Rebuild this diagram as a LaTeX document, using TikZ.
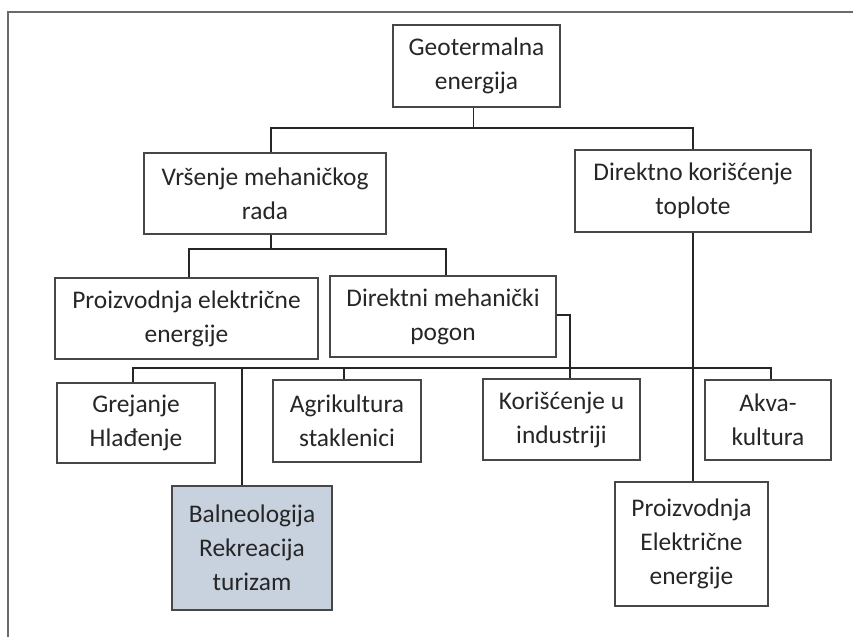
\documentclass[tikz,border=0pt]{standalone}
\usepackage{fontspec}
\setmainfont{Carlito}
\usetikzlibrary{calc}
\definecolor{inkgray}{HTML}{262626}
\definecolor{edgegray}{HTML}{474747}
\definecolor{framegray}{HTML}{6A6A6A}
\definecolor{balfill}{HTML}{C8D2DF}
\tikzset{
  plainbox/.style={draw=edgegray, line width=0.75pt, fill=white, align=center,
                   text=inkgray, inner sep=2pt, font=\fontsize{12.7}{17}\selectfont},
  shadebox/.style={plainbox, fill=balfill},
  wire/.style={draw=inkgray, line width=0.8pt}}
\begin{document}
\begin{tikzpicture}[x=0.5pt, y=-0.5pt]
  \useasboundingbox[fill=white] (0,0) rectangle (853,637);
  \draw[framegray, line width=0.7pt] (8,637) -- (8,12) -- (853,12);

  % top levels
  \node[plainbox, minimum width=83.5pt, minimum height=41pt] (geo) at (476.5,66)
    {Geotermalna\\energija};
  \node[plainbox, minimum width=121pt, minimum height=40.5pt] (mech) at (265,193.5)
    {Vršenje mehaničkog\\rada};
  \node[plainbox, minimum width=118pt, minimum height=41pt] (heat) at (693,191)
    {Direktno korišćenje\\toplote};
  \node[plainbox, minimum width=131.5pt, minimum height=40.5pt] (elec) at (186.5,318.5)
    {Proizvodnja električne\\energije};
  \node[plainbox, minimum width=113pt, minimum height=40.5pt] (drive) at (443,316.5)
    {Direktni mehanički\\pogon};

  % uses
  \node[plainbox, minimum width=79pt, minimum height=40pt] (heatcool) at (136,423)
    {Grejanje\\Hlađenje};
  \node[plainbox, minimum width=74pt, minimum height=41pt] (agri) at (347,421)
    {Agrikultura\\staklenici};
  \node[plainbox, minimum width=78.5pt, minimum height=40.5pt] (ind) at (561.5,419.5)
    {Korišćenje u\\industriji};
  \node[plainbox, minimum width=63pt, minimum height=40pt] (aqua) at (768,420)
    {Akva-\\kultura};
  \node[shadebox, minimum width=80pt, minimum height=62pt] (balneo) at (252,548)
    {Balneologija\\Rekreacija\\turizam};
  \node[plainbox, minimum width=76.5pt, minimum height=62pt] (power) at (691.5,544)
    {Proizvodnja\\Električne\\energije};

  \coordinate (busA) at (0,128);
  \coordinate (busB) at (0,249);
  \coordinate (busC) at (0,368);

  \draw[wire] ([xshift=-1.5pt]geo.south) -- ([xshift=-1.5pt]geo.south |- busA);
  \draw[wire] ([xshift=3pt]mech.north) |- (heat.north |- busA) -- (heat.north);
  \draw[wire] ([xshift=3pt]mech.south) -- ([xshift=3pt]mech.south |- busB);
  \draw[wire] ([xshift=1.25pt]elec.north) |- ([xshift=1.5pt]drive.north |- busB)
    -- ([xshift=1.5pt]drive.north);
  \draw[wire] ([xshift=-1.5pt]heatcool.north) |- ([xshift=1.5pt]aqua.north |- busC)
    -- ([xshift=1.5pt]aqua.north);
  \draw[wire] ([xshift=-1.5pt]agri.north) -- ([xshift=-1.5pt]agri.north |- busC);
  \draw[wire] ([xshift=-5pt]balneo.north) -- ([xshift=-5pt]balneo.north |- busC);
  \draw[wire] ([yshift=0.75pt]drive.east) -| ([xshift=4.25pt]ind.north);
  \draw[wire] (heat.south) -- (heat.south |- power.north);
\end{tikzpicture}
\end{document}
